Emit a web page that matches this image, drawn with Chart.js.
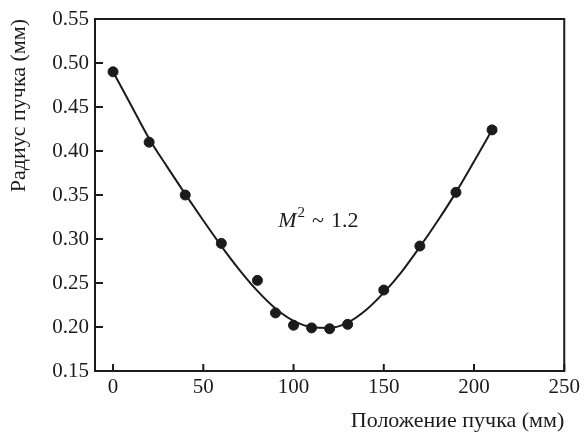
<!DOCTYPE html>
<html>
<head>
<meta charset="utf-8">
<script src="https://cdn.jsdelivr.net/npm/chart.js@4"></script>
<style>
  html, body { margin: 0; padding: 0; background: #fff; }
</style>
</head>
<body>
<canvas id="beamChart" width="584" height="432"></canvas>
<script>
// измеренные точки: положение (мм) и радиус (мм)
const posMm = [0, 20, 40, 60, 80, 90, 100, 110, 120, 130, 150, 170, 190, 210];
const radiusMm = [0.490, 0.410, 0.350, 0.295, 0.253, 0.216, 0.202, 0.199, 0.198, 0.203, 0.242, 0.292, 0.353, 0.424];

// аппроксимирующая кривая
const fitPos = [0, 10, 20, 30, 40, 50, 60, 70, 80, 90, 100, 110, 120, 130, 140, 150, 160, 170, 180, 190, 200, 210];
const fitRadius = [0.490, 0.452, 0.414, 0.382, 0.351, 0.321, 0.292, 0.265, 0.241, 0.221, 0.207, 0.200, 0.199, 0.205, 0.219, 0.239, 0.263, 0.291, 0.321, 0.353, 0.388, 0.424];

const xTicks = [0, 50, 100, 150, 200, 250];
const yTicks = [0.15, 0.20, 0.25, 0.30, 0.35, 0.40, 0.45, 0.50, 0.55];

const ink = '#1b1b1b';
const serif = 'Liberation Serif';

// рамка, внутренние засечки и подпись M^2
const framePlugin = {
  id: 'frame',
  beforeDraw(chart) {
    const ctx = chart.ctx;
    ctx.save();
    ctx.fillStyle = '#fff';
    ctx.fillRect(0, 0, chart.width, chart.height);
    ctx.restore();
  },
  afterDraw(chart) {
    const { ctx, chartArea: a, scales } = chart;
    ctx.save();
    ctx.strokeStyle = ink;
    ctx.lineWidth = 2;
    ctx.strokeRect(a.left, a.top, a.right - a.left, a.bottom - a.top);
    ctx.beginPath();
    xTicks.forEach(v => {
      const px = scales.x.getPixelForValue(v);
      ctx.moveTo(px, a.bottom);
      ctx.lineTo(px, a.bottom - 7);
    });
    yTicks.forEach(v => {
      const py = scales.y.getPixelForValue(v);
      ctx.moveTo(a.left, py);
      ctx.lineTo(a.left + 8, py);
    });
    ctx.stroke();

    // M^2 ~ 1.2
    let tx = scales.x.getPixelForValue(91.5);
    const ty = scales.y.getPixelForValue(0.3135);
    ctx.fillStyle = ink;
    ctx.textBaseline = 'alphabetic';
    ctx.font = 'italic 22px "' + serif + '"';
    ctx.fillText('M', tx, ty);
    tx += ctx.measureText('M').width + 1;
    ctx.font = '15px "' + serif + '"';
    ctx.fillText('2', tx, ty - 10);
    tx += ctx.measureText('2').width + 7;
    ctx.font = '22px "' + serif + '"';
    ctx.fillText('~', tx, ty);
    tx += ctx.measureText('~').width + 7;
    ctx.fillText('1.2', tx, ty);
    ctx.restore();
  }
};

new Chart(document.getElementById('beamChart'), {
  type: 'scatter',
  data: {
    datasets: [
      {
        type: 'line',
        label: 'fit',
        data: fitPos.map((x, i) => ({ x: x, y: fitRadius[i] })),
        borderColor: ink,
        borderWidth: 2,
        pointRadius: 0,
        cubicInterpolationMode: 'monotone',
        fill: false
      },
      {
        label: 'data',
        data: posMm.map((x, i) => ({ x: x, y: radiusMm[i] })),
        backgroundColor: ink,
        borderColor: ink,
        pointRadius: 5,
        pointHoverRadius: 5
      }
    ]
  },
  options: {
    responsive: false,
    animation: false,
    devicePixelRatio: 1,
    layout: { padding: { top: 19, right: 19, left: 0, bottom: 0 } },
    plugins: { legend: { display: false }, tooltip: { enabled: false } },
    scales: {
      x: {
        type: 'linear',
        min: -10,
        max: 250,
        afterBuildTicks: s => { s.ticks = xTicks.map(v => ({ value: v })); },
        afterFit: s => { s.height = 61; },
        grid: { display: false, drawTicks: false },
        border: { display: false },
        ticks: { color: ink, padding: 4, maxRotation: 0, font: { family: serif, size: 21 } },
        title: {
          display: true,
          text: 'Положение пучка (мм)',
          align: 'end',
          color: ink,
          font: { family: serif, size: 22 },
          padding: { top: 6, bottom: -2 }
        }
      },
      y: {
        min: 0.15,
        max: 0.55,
        afterBuildTicks: s => { s.ticks = yTicks.map(v => ({ value: v })); },
        afterFit: s => { s.width = 95; },
        grid: { display: false, drawTicks: false },
        border: { display: false },
        ticks: {
          color: ink,
          padding: 6,
          font: { family: serif, size: 21 },
          callback: v => v.toFixed(2)
        },
        title: {
          display: true,
          text: 'Радиус пучка (мм)',
          align: 'end',
          color: ink,
          font: { family: serif, size: 22 },
          padding: { top: 6 }
        }
      }
    }
  },
  plugins: [framePlugin]
});
</script>
</body>
</html>
